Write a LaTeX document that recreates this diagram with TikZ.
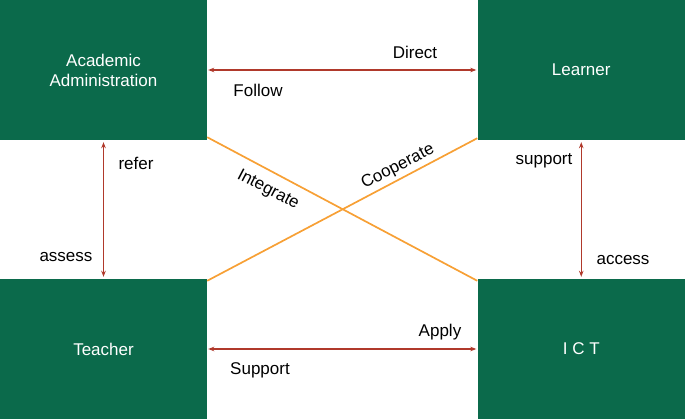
\documentclass[tikz,border=0pt]{standalone}
\usepackage{fontspec}
\setmainfont{Liberation Sans}
\usetikzlibrary{arrows.meta}
\definecolor{boxgreen}{HTML}{0B6A4B}
\definecolor{arrred}{HTML}{B0392B}
\definecolor{lineorange}{HTML}{F7A035}
\tikzset{
  box/.style={fill=boxgreen, draw=none, text=white, align=center, inner sep=0pt,
    font=\fontsize{17}{20}\selectfont},
  lbl/.style={font=\fontsize{17}{20}\selectfont, text=black, inner sep=0pt},
  redarrow/.style={draw=arrred, line width=1.5pt, {Stealth[length=6pt,width=4.5pt]}-{Stealth[length=6pt,width=4.5pt]}},
  orangeline/.style={draw=lineorange, line width=1.7pt}
}
\begin{document}
\begin{tikzpicture}[x=1pt,y=-1pt]
\useasboundingbox (0,0) rectangle (685,419);
\node[box, minimum width=207pt, minimum height=140pt] (aa) at (103.5,70) {Academic\\Administration};
\node[box, minimum width=207.5pt, minimum height=140pt] (le) at (581.25,70) {Learner};
\node[box, minimum width=207pt, minimum height=140pt] (te) at (103.5,349) {Teacher};
\node[box, minimum width=207.5pt, minimum height=140pt] (ict) at (581.25,349) {I C T};

\draw[orangeline] ([yshift=3pt]aa.south east) -- ([yshift=-2pt]ict.north west);
\draw[orangeline] ([yshift=-2pt]te.north east) -- ([yshift=2pt]le.south west);

\draw[redarrow, shorten <=1pt, shorten >=1pt] (aa.east) -- (le.west);
\draw[redarrow, shorten <=1pt, shorten >=1pt] (te.east) -- (ict.west);
\draw[redarrow, shorten <=2pt, shorten >=2pt] (aa.south) -- (te.north);
\draw[redarrow, shorten <=2pt, shorten >=2pt] (le.south) -- (ict.north);

\node[lbl] (direct) at (415,52) {Direct};
\node[lbl] (follow) at (258,90) {Follow};
\node[lbl] (refer) at (136,163) {refer};
\node[lbl] (assess) at (66,257) {assess};
\node[lbl] (support) at (544,161) {support};
\node[lbl] (access) at (623,260) {access};
\node[lbl] (apply) at (440,332) {Apply};
\node[lbl] (supp2) at (260,370) {Support};
\node[lbl, rotate=-27.6] (integ) at (268,190) {Integrate};
\node[lbl, rotate=27.4] (coop) at (398,167) {Cooperate};
\end{tikzpicture}
\end{document}
